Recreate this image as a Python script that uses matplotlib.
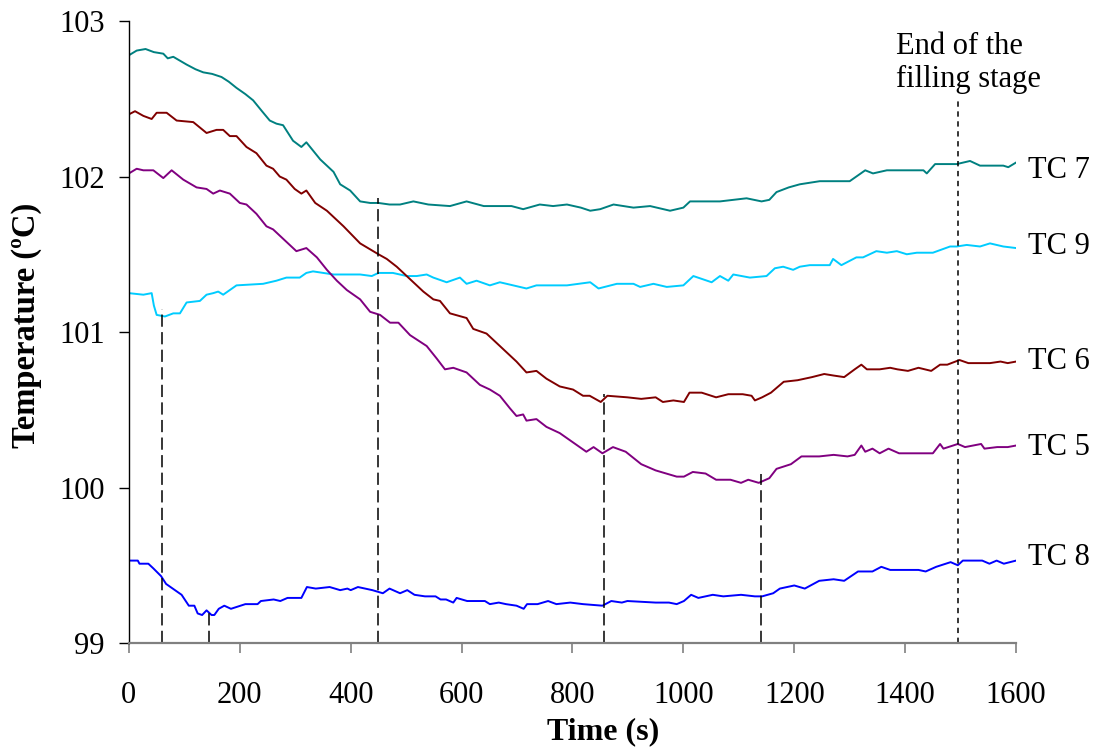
import matplotlib
matplotlib.use("Agg")
import matplotlib.pyplot as plt

# readings (time in s, temperature in degC)
t_tc7 = [0, 14, 30, 45, 62, 70, 80, 104, 120, 134, 150, 167, 180, 194, 210, 224, 240, 254, 266, 278,
         296, 311, 320, 345, 369, 381, 399, 417, 435, 450, 470, 489, 513, 540, 579, 609, 640, 669, 690,
         711, 741, 765, 790, 815, 832, 850, 874, 910, 940, 976, 1000, 1012, 1040, 1066, 1090, 1114,
         1141, 1155, 1168, 1190, 1210, 1246, 1276, 1300, 1328, 1342, 1367, 1396, 1433, 1439, 1454,
         1493, 1517, 1535, 1577, 1586, 1600]
tc7 = [102.78, 102.81, 102.82, 102.80, 102.79, 102.76, 102.77, 102.72, 102.69, 102.67, 102.66, 102.64,
       102.61, 102.57, 102.53, 102.49, 102.42, 102.36, 102.34, 102.33, 102.23, 102.19, 102.22, 102.11,
       102.03, 101.95, 101.91, 101.84, 101.83, 101.83, 101.82, 101.82, 101.84, 101.82, 101.81, 101.84,
       101.81, 101.81, 101.81, 101.79, 101.82, 101.81, 101.82, 101.80, 101.78, 101.79, 101.82, 101.80,
       101.81, 101.78, 101.80, 101.84, 101.84, 101.84, 101.85, 101.86, 101.84, 101.85, 101.90, 101.93,
       101.95, 101.97, 101.97, 101.97, 102.04, 102.02, 102.04, 102.04, 102.04, 102.02, 102.08, 102.08,
       102.10, 102.07, 102.07, 102.06, 102.09]

t_tc9 = [0, 26, 41, 45, 50, 65, 80, 92, 104, 128, 140, 152, 161, 170, 194, 242, 266, 284, 308, 320,
         332, 369, 417, 438, 450, 476, 501, 519, 537, 549, 573, 597, 609, 627, 651, 669, 717, 735, 790,
         832, 847, 880, 910, 922, 946, 970, 1000, 1018, 1051, 1066, 1081, 1090, 1120, 1150, 1165, 1180,
         1198, 1210, 1228, 1264, 1270, 1285, 1312, 1324, 1348, 1367, 1385, 1403, 1421, 1450, 1481, 1493,
         1511, 1535, 1553, 1577, 1600]
tc9 = [101.25, 101.24, 101.25, 101.17, 101.11, 101.10, 101.12, 101.12, 101.19, 101.20, 101.24, 101.25,
       101.26, 101.24, 101.30, 101.31, 101.33, 101.35, 101.35, 101.38, 101.39, 101.37, 101.37, 101.36,
       101.38, 101.38, 101.36, 101.36, 101.37, 101.35, 101.32, 101.35, 101.31, 101.33, 101.30, 101.32,
       101.28, 101.30, 101.30, 101.32, 101.28, 101.31, 101.31, 101.29, 101.31, 101.29, 101.30, 101.36,
       101.32, 101.36, 101.33, 101.37, 101.35, 101.36, 101.41, 101.42, 101.40, 101.42, 101.43, 101.43,
       101.47, 101.43, 101.48, 101.48, 101.52, 101.51, 101.52, 101.50, 101.51, 101.51, 101.55, 101.55,
       101.56, 101.55, 101.57, 101.55, 101.54]

t_tc6 = [0, 11, 26, 41, 50, 68, 86, 116, 140, 158, 170, 182, 194, 212, 230, 248, 260, 272, 284, 299,
         311, 320, 336, 357, 387, 417, 450, 465, 483, 495, 513, 531, 549, 561, 579, 609, 621, 645, 663,
         681, 699, 717, 735, 753, 777, 801, 819, 831, 851, 863, 899, 924, 950, 963, 982, 1001, 1011,
         1033, 1059, 1081, 1107, 1123, 1129, 1142, 1158, 1181, 1206, 1232, 1254, 1271, 1290, 1309,
         1321, 1331, 1354, 1373, 1386, 1405, 1424, 1447, 1463, 1476, 1498, 1514, 1553, 1572, 1585, 1600]
tc6 = [102.40, 102.42, 102.39, 102.37, 102.41, 102.41, 102.36, 102.35, 102.28, 102.30, 102.30, 102.26,
       102.26, 102.19, 102.15, 102.07, 102.05, 102.00, 101.98, 101.92, 101.89, 101.91, 101.83, 101.78,
       101.68, 101.57, 101.50, 101.47, 101.42, 101.38, 101.32, 101.26, 101.21, 101.20, 101.12, 101.09,
       101.02, 100.99, 100.93, 100.87, 100.81, 100.74, 100.75, 100.70, 100.65, 100.63, 100.59, 100.59,
       100.55, 100.59, 100.58, 100.57, 100.58, 100.55, 100.56, 100.55, 100.61, 100.61, 100.58, 100.60,
       100.60, 100.59, 100.56, 100.58, 100.61, 100.68, 100.69, 100.71, 100.73, 100.72, 100.71, 100.76,
       100.79, 100.76, 100.76, 100.77, 100.76, 100.75, 100.77, 100.75, 100.79, 100.79, 100.82, 100.80,
       100.80, 100.81, 100.80, 100.81]

t_tc5 = [0, 14, 26, 44, 62, 77, 98, 122, 140, 152, 164, 182, 200, 212, 230, 248, 260, 278, 302, 320,
         339, 357, 375, 393, 417, 435, 453, 471, 486, 507, 537, 555, 570, 585, 609, 633, 651, 669, 687,
         699, 711, 717, 735, 753, 777, 801, 825, 838, 854, 873, 896, 924, 950, 988, 1001, 1017, 1040,
         1059, 1085, 1104, 1117, 1136, 1155, 1168, 1194, 1213, 1245, 1271, 1296, 1309, 1321, 1328, 1341,
         1354, 1370, 1389, 1418, 1450, 1463, 1469, 1495, 1508, 1537, 1543, 1566, 1585, 1600]
tc5 = [102.02, 102.05, 102.04, 102.04, 101.99, 102.04, 101.98, 101.93, 101.92, 101.89, 101.91, 101.89,
       101.83, 101.82, 101.76, 101.68, 101.66, 101.60, 101.52, 101.54, 101.48, 101.40, 101.33, 101.27,
       101.21, 101.13, 101.11, 101.06, 101.06, 100.98, 100.91, 100.83, 100.76, 100.77, 100.74, 100.66,
       100.63, 100.59, 100.51, 100.46, 100.47, 100.43, 100.44, 100.39, 100.35, 100.29, 100.23, 100.26,
       100.22, 100.26, 100.23, 100.15, 100.11, 100.07, 100.07, 100.10, 100.09, 100.05, 100.05, 100.03,
       100.05, 100.03, 100.06, 100.12, 100.15, 100.20, 100.20, 100.21, 100.20, 100.21, 100.27, 100.23,
       100.25, 100.22, 100.25, 100.22, 100.22, 100.22, 100.28, 100.25, 100.28, 100.26, 100.28, 100.25,
       100.26, 100.26, 100.27]

t_tc8 = [0, 16, 19, 35, 44, 58, 67, 83, 95, 108, 118, 124, 132, 140, 149, 154, 162, 172, 184, 210, 232,
         238, 261, 273, 286, 311, 321, 337, 362, 381, 394, 400, 413, 439, 458, 470, 489, 502, 515, 534,
         553, 562, 572, 585, 591, 610, 642, 651, 667, 680, 699, 712, 718, 737, 756, 771, 796, 819, 854,
         870, 889, 899, 950, 974, 988, 1001, 1014, 1027, 1053, 1072, 1104, 1129, 1142, 1162, 1174, 1200,
         1219, 1245, 1271, 1290, 1315, 1341, 1357, 1373, 1399, 1424, 1437, 1456, 1482, 1495, 1504, 1539,
         1552, 1565, 1578, 1600]
tc8 = [99.53, 99.53, 99.51, 99.51, 99.48, 99.43, 99.38, 99.34, 99.31, 99.24, 99.24, 99.19, 99.18, 99.21,
       99.18, 99.18, 99.22, 99.24, 99.22, 99.25, 99.25, 99.27, 99.28, 99.27, 99.29, 99.29, 99.36, 99.35,
       99.36, 99.34, 99.35, 99.34, 99.36, 99.34, 99.32, 99.35, 99.32, 99.34, 99.31, 99.30, 99.30, 99.28,
       99.28, 99.26, 99.29, 99.27, 99.27, 99.25, 99.26, 99.25, 99.24, 99.22, 99.25, 99.25, 99.27, 99.25,
       99.26, 99.25, 99.24, 99.27, 99.26, 99.27, 99.26, 99.26, 99.25, 99.27, 99.31, 99.29, 99.31, 99.30,
       99.31, 99.30, 99.30, 99.32, 99.35, 99.37, 99.35, 99.40, 99.41, 99.40, 99.46, 99.46, 99.49, 99.47,
       99.47, 99.47, 99.46, 99.49, 99.52, 99.50, 99.53, 99.53, 99.51, 99.53, 99.51, 99.53]

# vertical marker lines (time, top of line)
mark_t = [60, 145, 450, 857, 1140]
mark_top = [101.15, 99.21, 101.86, 100.60, 100.09]
end_t = 1495
end_top = 102.49

labels = ["TC 7", "TC 9", "TC 6", "TC 5", "TC 8"]
label_y = [102.04, 101.55, 100.81, 100.26, 99.55]
colors = ["#008080", "#00CCFF", "#800000", "#800080", "#0000FF"]

plt.rcParams['font.family'] = ['Liberation Serif', 'DejaVu Serif']

fig = plt.figure(figsize=(11.02, 7.51), dpi=100)
ax = fig.add_axes([0.117, 0.1438, 0.805, 0.8282])

series = [(t_tc7, tc7), (t_tc9, tc9), (t_tc6, tc6), (t_tc5, tc5), (t_tc8, tc8)]
for (t, v), c in zip(series, colors):
    ax.plot(t, v, color=c, linewidth=1.4)

for x, top in zip(mark_t, mark_top):
    ax.vlines(x, 99.0, top, colors='black', linewidth=1.1, linestyles=(0, (8, 3.5)))
ax.vlines(end_t, 99.0, end_top, colors='black', linewidth=1.1, linestyles=(0, (3.5, 3)))

for lab, y in zip(labels, label_y):
    ax.text(1621, y, lab, fontsize=22, va='center', ha='left')

ax.text(1383, 102.73, "End of the\nfilling stage", fontsize=22, va='center', ha='left')

ax.set_xlim(0, 1600)
ax.set_ylim(99, 103)
ax.set_xticks(range(0, 1601, 200))
ax.set_yticks([99, 100, 101, 102, 103])

ax.spines['top'].set_visible(False)
ax.spines['right'].set_visible(False)
ax.spines['left'].set_color('black')
ax.spines['left'].set_linewidth(1.0)
ax.spines['bottom'].set_color('#808080')
ax.spines['bottom'].set_linewidth(1.6)

ax.tick_params(axis='y', direction='out', length=7.5, width=1.0, labelsize=22, pad=10)
ax.tick_params(axis='x', direction='out', length=7.5, width=1.2, color='#808080', labelsize=22, pad=19.5)

ax.set_xlabel("Time (s)", fontsize=23, fontweight='bold')
ax.set_ylabel("Temperature (ºC)", fontsize=23.5, fontweight='bold')
ax.xaxis.set_label_coords(0.534, -0.119)
ax.yaxis.set_label_coords(-0.098, 0.511)

plt.savefig("out.png", dpi=100)
